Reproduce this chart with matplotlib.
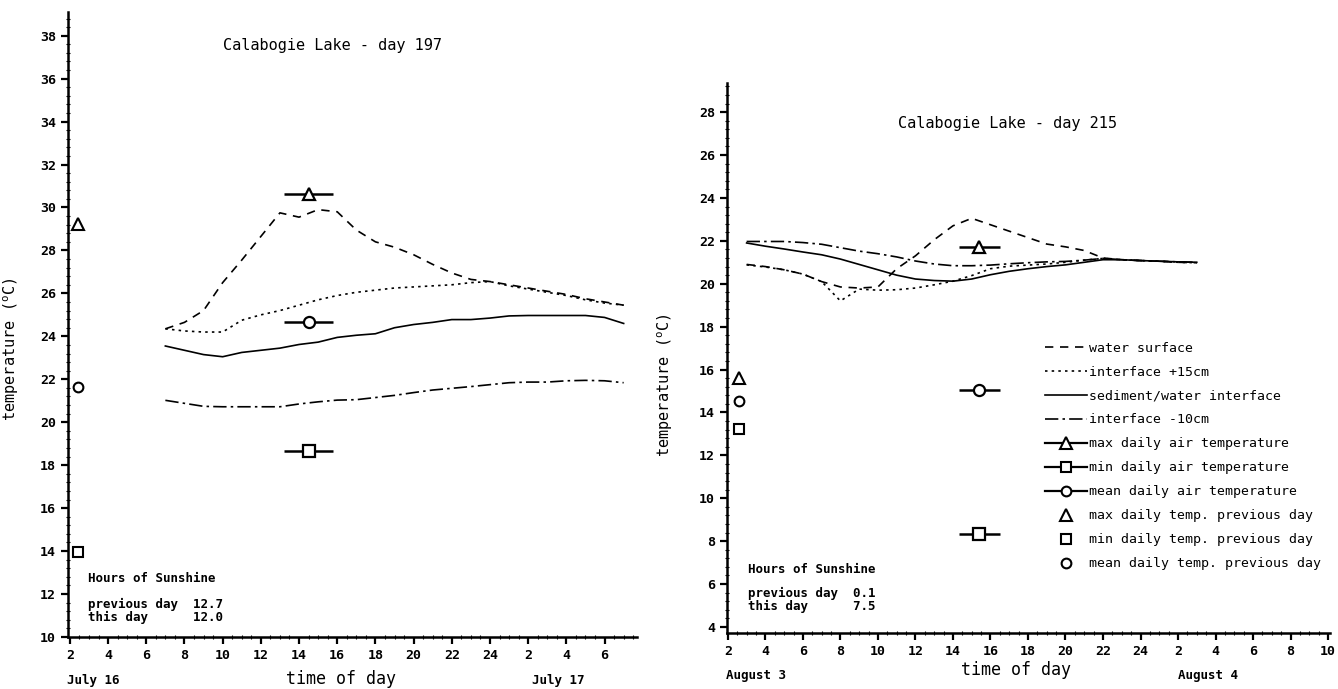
import matplotlib
matplotlib.use("Agg")
import matplotlib.pyplot as plt
from matplotlib.lines import Line2D
from matplotlib.ticker import MultipleLocator, FuncFormatter

plt.rcParams['font.family'] = ['DejaVu Sans Mono']
plt.rcParams['mathtext.fontset'] = 'custom'
plt.rcParams['mathtext.rm'] = 'DejaVu Sans Mono'

# ---- day 197 (July 16-17) ----
hours_197 = [7, 8, 9, 10, 11, 12, 13, 14, 15, 16, 17, 18, 19, 20, 21, 22, 23, 24,
             25, 26, 27, 28, 29, 30, 31]
surface_197 = [24.35, 24.65, 25.2, 26.5, 27.55, 28.65, 29.75, 29.55, 29.9, 29.8, 28.95,
               28.4, 28.15, 27.8, 27.35, 26.95, 26.65, 26.55, 26.4, 26.25, 26.1, 25.95,
               25.75, 25.6, 25.45]
plus15_197 = [24.35, 24.25, 24.2, 24.2, 24.75, 25.0, 25.2, 25.45, 25.7, 25.9, 26.05,
              26.15, 26.25, 26.3, 26.35, 26.4, 26.5, 26.55, 26.35, 26.2, 26.05, 25.9,
              25.7, 25.55, 25.45]
sediment_197 = [23.55, 23.35, 23.15, 23.05, 23.25, 23.35, 23.45, 23.62, 23.73, 23.95,
                24.05, 24.12, 24.4, 24.55, 24.65, 24.78, 24.78, 24.85, 24.95, 24.97,
                24.97, 24.97, 24.97, 24.88, 24.6]
minus10_197 = [21.02, 20.88, 20.74, 20.72, 20.72, 20.72, 20.72, 20.85, 20.95, 21.03,
               21.05, 21.15, 21.25, 21.38, 21.5, 21.58, 21.66, 21.75, 21.84, 21.87,
               21.87, 21.93, 21.95, 21.93, 21.84]
air_197 = {'max': 30.65, 'mean': 24.65, 'min': 18.65}
air_hour_197 = 14.5
air_span_197 = 1.3
prev_197 = {'max': 29.25, 'mean': 21.65, 'min': 13.95}
prev_hour_197 = 2.4
sun_197 = (12.7, 12.0)

# ---- day 215 (August 3-4) ----
hours_215 = [3, 4, 5, 6, 7, 8, 9, 10, 11, 12, 13, 14, 15, 16, 17, 18, 19, 20, 21, 22,
             23, 24, 25, 26, 27]
surface_215 = [20.9, 20.8, 20.65, 20.45, 20.1, 19.85, 19.8, 19.85, 20.7, 21.3, 22.05,
               22.7, 23.05, 22.75, 22.45, 22.15, 21.85, 21.72, 21.55, 21.2, 21.12,
               21.08, 21.05, 21.0, 20.98]
plus15_215 = [20.88, 20.78, 20.65, 20.45, 20.1, 19.2, 19.75, 19.7, 19.72, 19.8, 19.95,
              20.12, 20.38, 20.7, 20.82, 20.87, 20.92, 21.0, 21.1, 21.18, 21.12, 21.08,
              21.05, 21.0, 20.98]
sediment_215 = [21.9, 21.75, 21.62, 21.48, 21.35, 21.15, 20.9, 20.65, 20.4, 20.22,
                20.15, 20.12, 20.22, 20.42, 20.58, 20.7, 20.8, 20.88, 21.0, 21.12,
                21.12, 21.08, 21.05, 21.02, 21.0]
minus10_215 = [21.97, 21.97, 21.97, 21.92, 21.84, 21.68, 21.52, 21.4, 21.25, 21.06,
               20.92, 20.84, 20.84, 20.87, 20.93, 20.98, 21.02, 21.04, 21.1, 21.18,
               21.12, 21.08, 21.05, 21.02, 21.0]
air_215 = {'max': 21.7, 'mean': 15.05, 'min': 8.35}
air_hour_215 = 15.4
air_span_215 = 1.1
prev_215 = {'max': 15.6, 'mean': 14.55, 'min': 13.25}
prev_hour_215 = 2.6
sun_215 = (0.1, 7.5)

markers = {'max': '^', 'min': 's', 'mean': 'o'}
msize = {'max': 9, 'min': 8, 'mean': 8}
styles = {'surface': dict(dashes=(5, 4)),
          'plus15': dict(dashes=(1.5, 2.5)),
          'sediment': dict(linestyle='-'),
          'minus10': dict(dashes=(8, 2.5, 1.5, 2.5))}
LW = 1.2


def hour_label(v, pos):
    h = int(round(v))
    return str(h if h <= 24 else h - 24)


def draw_day(ax, hours, surf, p15, sed, m10, air, air_hour, span, prev, prev_hour,
             title, sun, xlim, ylim, dates):
    ax.plot(hours, surf, color='black', lw=LW, **styles['surface'])
    ax.plot(hours, p15, color='black', lw=LW, **styles['plus15'])
    ax.plot(hours, sed, color='black', lw=LW, **styles['sediment'])
    ax.plot(hours, m10, color='black', lw=LW, **styles['minus10'])

    for key in ['max', 'min', 'mean']:
        ax.errorbar(air_hour, air[key], xerr=span, fmt=markers[key], color='black',
                    mfc='white', mec='black', mew=1.6, ms=msize[key], elinewidth=1.8,
                    capsize=0)
        ax.plot(prev_hour, prev[key], markers[key], color='black', mfc='white',
                mec='black', mew=1.5, ms=msize[key] - 1, linestyle='none')

    ax.set_xlim(*xlim)
    ax.set_ylim(*ylim)
    for s in ['top', 'right']:
        ax.spines[s].set_visible(False)
    for s in ['left', 'bottom']:
        ax.spines[s].set_linewidth(1.8)

    ax.xaxis.set_major_locator(MultipleLocator(2))
    ax.xaxis.set_minor_locator(MultipleLocator(0.5))
    ax.xaxis.set_major_formatter(FuncFormatter(hour_label))
    ax.yaxis.set_major_locator(MultipleLocator(2))
    ax.yaxis.set_minor_locator(MultipleLocator(0.4))
    ax.tick_params(axis='both', which='major', direction='out', length=5, width=1.6,
                   labelsize=9.5)
    ax.tick_params(axis='both', which='minor', direction='inout', length=3, width=0.8)
    for lab in ax.get_xticklabels() + ax.get_yticklabels():
        lab.set_fontweight('bold')

    ax.text(0.465, title[1], title[0], transform=ax.transAxes, ha='center',
            va='center', fontsize=11)
    ax.set_ylabel('temperature ($^{\\rm o}$C)', fontsize=11)
    ax.yaxis.set_label_coords(-0.083, 0.46)
    ax.text(0.48, -0.068, 'time of day', transform=ax.transAxes, ha='center',
            va='center', fontsize=12)

    ax.text(xlim[0] - 0.05, dates[2], dates[0], transform=ax.get_xaxis_transform(),
            ha='left', va='center', fontsize=9, fontweight='bold')
    ax.text(27.6, dates[2], dates[1], transform=ax.get_xaxis_transform(),
            ha='center', va='center', fontsize=9, fontweight='bold')

    ax.text(0.035, sun[2], 'Hours of Sunshine', transform=ax.transAxes, ha='left',
            va='center', fontsize=9, fontweight='bold')
    ax.text(0.035, sun[3], f'previous day  {sun[0]:.1f}\nthis day      {sun[1]:.1f}',
            transform=ax.transAxes, ha='left', va='center', fontsize=9,
            fontweight='bold', linespacing=1.0)


fig = plt.figure(figsize=(13.38, 6.89), dpi=100)
ax1 = fig.add_axes([0.0508, 0.0755, 0.4253, 0.907])
ax2 = fig.add_axes([0.5433, 0.0813, 0.4507, 0.798])

draw_day(ax1, hours_197, surface_197, plus15_197, sediment_197, minus10_197, air_197,
         air_hour_197, air_span_197, prev_197, prev_hour_197,
         ('Calabogie Lake - day 197', 0.946), (*sun_197, 0.094, 0.042),
         (1.9, 31.7), (10, 39.1), ('July 16', 'July 17', -0.069))
draw_day(ax2, hours_215, surface_215, plus15_215, sediment_215, minus10_215, air_215,
         air_hour_215, air_span_215, prev_215, prev_hour_215,
         ('Calabogie Lake - day 215', 0.927), (*sun_215, 0.116, 0.06),
         (1.95, 34.1), (3.72, 29.35), ('August 3', 'August 4', -0.078))
ax2.yaxis.set_label_coords(-0.086, 0.45)

# key for both panels, drawn in the day 215 panel
line_labels = [('surface', 'water surface'), ('plus15', 'interface +15cm'),
               ('sediment', 'sediment/water interface'), ('minus10', 'interface -10cm')]
handles = [Line2D([], [], color='black', lw=LW, **styles[k]) for k, _ in line_labels]
labels = [t for _, t in line_labels]
for key in ['max', 'min', 'mean']:
    handles.append(Line2D([], [], color='black', lw=1.6, marker=markers[key],
                          mfc='white', mec='black', mew=1.5, ms=msize[key] - 1))
    labels.append(f'{key} daily air temperature')
for key in ['max', 'min', 'mean']:
    handles.append(Line2D([], [], color='black', linestyle='none', marker=markers[key],
                          mfc='white', mec='black', mew=1.5, ms=msize[key] - 1))
    labels.append(f'{key} daily temp. previous day')

ax2.legend(handles, labels, loc='upper left', bbox_to_anchor=(0.527, 0.53),
           frameon=False, fontsize=9.5, handlelength=3.2, handletextpad=0.15,
           labelspacing=0.83, borderpad=0, borderaxespad=0)

fig.savefig('out.png', dpi=100)
